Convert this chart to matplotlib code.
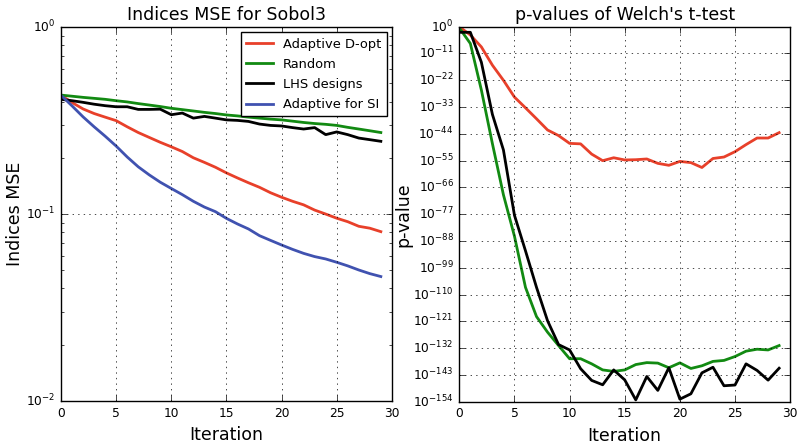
import matplotlib
matplotlib.use('Agg')
import matplotlib.pyplot as plt
import matplotlib.ticker as mticker
import numpy as np

plt.style.use('classic')

iterations = np.arange(30)

# left panel: indices MSE
mse_dopt = [0.432, 0.395, 0.365, 0.345, 0.330, 0.316, 0.293, 0.273, 0.257, 0.242,
            0.229, 0.216, 0.200, 0.189, 0.178, 0.166, 0.156, 0.147, 0.139, 0.130,
            0.123, 0.117, 0.112, 0.105, 0.100, 0.095, 0.091, 0.086, 0.084, 0.0805]
mse_random = [0.433, 0.427, 0.421, 0.416, 0.411, 0.404, 0.398, 0.390, 0.383, 0.376,
              0.368, 0.362, 0.356, 0.350, 0.345, 0.339, 0.335, 0.330, 0.326, 0.322,
              0.319, 0.314, 0.309, 0.305, 0.302, 0.298, 0.291, 0.285, 0.279, 0.273]
mse_lhs = [0.411, 0.404, 0.396, 0.387, 0.380, 0.375, 0.375, 0.363, 0.363, 0.364,
           0.340, 0.347, 0.326, 0.333, 0.326, 0.319, 0.317, 0.313, 0.303, 0.298,
           0.296, 0.290, 0.285, 0.290, 0.266, 0.275, 0.266, 0.255, 0.250, 0.245]
mse_si = [0.432, 0.379, 0.331, 0.293, 0.261, 0.231, 0.202, 0.179, 0.162, 0.148,
          0.137, 0.127, 0.117, 0.109, 0.103, 0.0948, 0.0885, 0.0832, 0.0766, 0.0723,
          0.0683, 0.0647, 0.0616, 0.0592, 0.0575, 0.0552, 0.0528, 0.0502, 0.0480, 0.0463]

# right panel: log10 of p-values
logp_dopt = [0, -3.4, -8.3, -15.8, -22, -28.9, -33.3, -37.8, -42.4, -44.7,
             -47.9, -48.1, -52.3, -55.0, -53.8, -54.7, -54.6, -54.3, -56.1, -56.9,
             -55.3, -55.8, -57.8, -54.1, -53.5, -51.3, -48.4, -45.7, -45.7, -43.5]
logp_random = [-0.5, -6.9, -26, -48, -69, -86, -107, -119, -125.4, -130.9,
               -136.3, -136.3, -138.4, -140.9, -141.5, -140.9, -138.7, -137.9, -138.1, -140,
               -138, -140.3, -139.2, -137.4, -137, -135.4, -133.2, -132.4, -132.7, -130.9]
logp_lhs = [-2.3, -2.3, -14.6, -36, -50.6, -77.4, -92, -107, -120.7, -130.5,
            -132.7, -140.4, -145.2, -147, -140.9, -145, -153.2, -143.6, -149.3, -140,
            -152.9, -150.7, -142.1, -139.8, -147.4, -147.1, -138.4, -141.1, -145.1, -140.2]

c_red = '#e8402a'
c_green = '#128a12'
c_blue = '#4052b0'

fig = plt.figure(figsize=(8.03, 4.45), dpi=100, facecolor='white')
ax1 = fig.add_axes([0.076, 0.099, 0.412, 0.840])
ax2 = fig.add_axes([0.572, 0.097, 0.412, 0.843])

ax1.plot(iterations, mse_dopt, color=c_red, lw=2, label='Adaptive D-opt')
ax1.plot(iterations, mse_random, color=c_green, lw=2, label='Random')
ax1.plot(iterations, mse_lhs, color='k', lw=2, label='LHS designs')
ax1.plot(iterations, mse_si, color=c_blue, lw=2, label='Adaptive for SI')
ax1.set_yscale('log')
ax1.set_xlim(0, 30)
ax1.set_ylim(1e-2, 1)
ax1.grid(True)
ax1.set_title('Indices MSE for Sobol3', fontsize=12.5)
ax1.set_xlabel('Iteration', fontsize=12.5)
ax1.set_ylabel('Indices MSE', fontsize=12.5)
ax1.yaxis.set_label_coords(-0.112, 0.5)
ax1.tick_params(labelsize=8.8)
leg = ax1.legend(loc='upper right', fontsize=9.4, numpoints=1, handlelength=2.0,
                 borderaxespad=0.4, labelspacing=0.55)
leg.get_frame().set_linewidth(1.0)

ax2.plot(iterations, 10.0 ** np.array(logp_dopt), color=c_red, lw=2)
ax2.plot(iterations, 10.0 ** np.array(logp_random), color=c_green, lw=2)
ax2.plot(iterations, 10.0 ** np.array(logp_lhs), color='k', lw=2)
ax2.set_yscale('log')
ax2.set_xlim(0, 30)
ax2.set_ylim(1e-154, 1)
ax2.yaxis.set_major_locator(mticker.FixedLocator([10.0 ** (-11 * k) for k in range(15)]))
ax2.yaxis.set_major_formatter(mticker.LogFormatterSciNotation())
ax2.yaxis.set_minor_locator(mticker.NullLocator())
ax2.grid(True)
ax2.set_title("p-values of Welch's t-test", fontsize=12.5)
ax2.set_xlabel('Iteration', fontsize=12.5)
ax2.set_ylabel('p-value', fontsize=12.5)
ax2.yaxis.set_label_coords(-0.143, 0.5)
ax2.tick_params(labelsize=8.8)

fig.savefig('out.png', dpi=100, facecolor='white')
